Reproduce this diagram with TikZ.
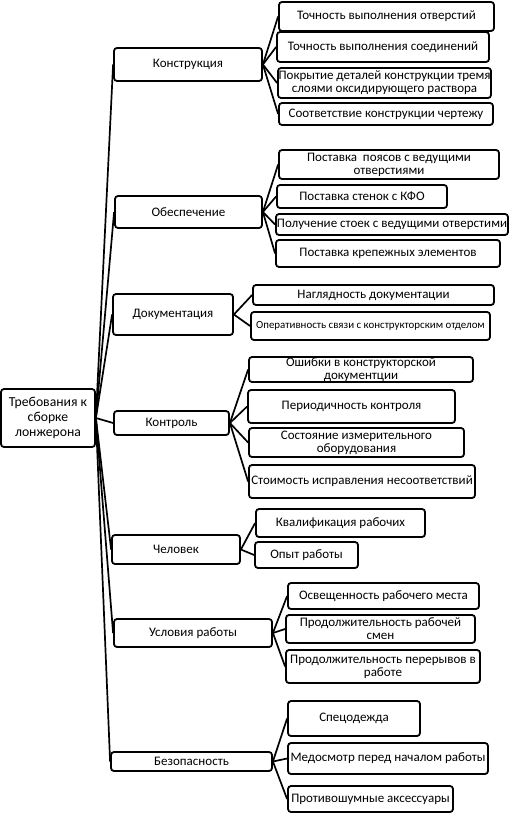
\documentclass[tikz,border=0pt]{standalone}
\usepackage{fontspec}
\setmainfont{Carlito}

\begin{document}
\begin{tikzpicture}[x=1pt, y=-1pt,
    box/.style={draw, rounded corners=3pt, line width=1.8pt, fill=white, align=center, inner sep=0.5pt, font=\fontsize{13}{13}\selectfont},
    link/.style={line width=1.7pt}]
    \useasboundingbox (0,0) rectangle (512,829);

    % Root
    \node[box, minimum width=94, minimum height=58, font=\fontsize{13.7}{15}\selectfont] (root) at (48, 418) {Требования к\\сборке\\лонжерона};

    % Branches
    \node[box, minimum width=148, minimum height=33] (kon) at (188, 64.5) {Конструкция};
    \node[box, minimum width=147, minimum height=32] (obe) at (188.5, 212) {Обеспечение};
    \node[box, minimum width=120, minimum height=41] (dok) at (173, 314.5) {Документация};
    \node[box, minimum width=115, minimum height=24] (ktr) at (171.5, 423) {Контроль};
    \node[box, minimum width=128, minimum height=29] (chl) at (176, 549.5) {Человек};
    \node[box, minimum width=158, minimum height=28] (usl) at (193, 633) {Условия работы};
    \node[box, minimum width=161, minimum height=19] (bez) at (191.5, 761.5) {Безопасность};

    % Konstruktsiya
    \node[box, minimum width=215, minimum height=29] (kon1) at (386.5, 16.5) {Точность выполнения отверстий};
    \node[box, minimum width=212, minimum height=30] (kon2) at (383, 47) {Точность выполнения соединений};
    \node[box, minimum width=213, minimum height=30] (kon3) at (384.5, 83) {Покрытие деталей конструкции тремя\\слоями оксидирующего раствора};
    \node[box, minimum width=214, minimum height=22] (kon4) at (386, 114) {Соответствие конструкции чертежу};

    % Obespechenie
    \node[box, minimum width=220, minimum height=29] (obe1) at (389, 164.5) {Поставка\ \ поясов с ведущими\\отверстиями};
    \node[box, minimum width=170, minimum height=23] (obe2) at (362, 196.5) {Поставка стенок с КФО};
    \node[box, minimum width=232, minimum height=21] (obe3) at (392, 224.5) {Получение стоек с ведущими отверстими};
    \node[box, minimum width=224, minimum height=27] (obe4) at (388, 253.5) {Поставка крепежных элементов};

    % Dokumentatsiya
    \node[box, minimum width=241, minimum height=20] (dok1) at (373.5, 295) {Наглядность документации};
    \node[box, minimum width=239, minimum height=28, font=\fontsize{10.9}{11}\selectfont] (dok2) at (370.5, 326) {Оперативность связи с конструкторским отделом};

    % Kontrol
    \node[box, minimum width=224, minimum height=25] (ktr1) at (361, 369.5) {Ошибки в конструкторской\\документции};
    \node[box, minimum width=207, minimum height=33] (ktr2) at (351.5, 406.5) {Периодичность контроля};
    \node[box, minimum width=215, minimum height=29] (ktr3) at (356.5, 442.5) {Состояние измерительного\\оборудования};
    \node[box, minimum width=226, minimum height=33] (ktr4) at (362, 481.5) {Стоимость исправления несоответствий};

    % Chelovek
    \node[box, minimum width=169, minimum height=28] (chl1) at (340.5, 523) {Квалификация рабочих};
    \node[box, minimum width=103, minimum height=26] (chl2) at (306.5, 555) {Опыт работы};

    % Usloviya
    \node[box, minimum width=191, minimum height=26] (usl1) at (383.5, 596) {Освещенность рабочего места};
    \node[box, minimum width=189, minimum height=28] (usl2) at (380.5, 629) {Продолжительность рабочей\\смен};
    \node[box, minimum width=194, minimum height=33] (usl3) at (383, 666.5) {Продолжительность перерывов в\\работе};

    % Bezopasnost
    \node[box, minimum width=132, minimum height=35] (bez1) at (354, 718.5) {Спецодежда};
    \node[box, minimum width=200, minimum height=31] (bez2) at (388, 758.5) {Медосмотр перед началом работы};
    \node[box, minimum width=165, minimum height=26] (bez3) at (370.5, 799) {Противошумные аксессуары};

    % Connections
    \foreach \b in {kon, obe, dok, ktr, chl, usl, bez}
        \draw[link] (root.east) -- (\b.west);
    \foreach \c in {1, 2, 3, 4} {
        \draw[link] (kon.east) -- (kon\c.west);
        \draw[link] (obe.east) -- (obe\c.west);
        \draw[link] (ktr.east) -- (ktr\c.west);
    }
    \foreach \c in {1, 2} {
        \draw[link] (dok.east) -- (dok\c.west);
        \draw[link] (chl.east) -- (chl\c.west);
    }
    \foreach \c in {1, 2, 3} {
        \draw[link] (usl.east) -- (usl\c.west);
        \draw[link] (bez.east) -- (bez\c.west);
    }
\end{tikzpicture}
\end{document}
